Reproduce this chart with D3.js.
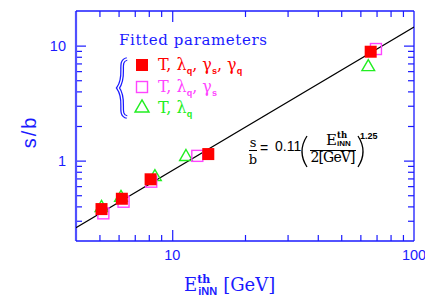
<!DOCTYPE html>
<html>
<head>
<meta charset="utf-8">
<script src="https://cdn.jsdelivr.net/npm/d3@7"></script>
<style>
  body { margin: 0; background: #fff; }
  svg { display: block; }
</style>
</head>
<body>
<div id="chart"></div>
<script>
// data (E in GeV, s/b)
var fullE  = [5.10, 6.19, 8.14, 14.1, 66.2];
var fullSB = [0.379, 0.466, 0.688, 1.14, 8.85];
var openE  = [5.19, 6.29, 8.19, 12.7, 69.6];
var openSB = [0.348, 0.439, 0.656, 1.10, 9.34];
var triE   = [5.10, 6.14, 8.48, 11.4, 64.7];
var triSB  = [0.397, 0.486, 0.735, 1.10, 6.65];
// fit line end points
var fitE  = [4, 100];
var fitSB = [0.261, 14.5];

var xMajor = [10];
var yMajor = [1, 10];

var W = 425, H = 301;
var mLeft = 76, mRight = 414, mTop = 11, mBottom = 241;
var blue = '#1a1aff';

var svg = d3.select('#chart').append('svg')
  .attr('width', W).attr('height', H);

var x = d3.scaleLog().domain([4, 100]).range([mLeft, mRight]);
var y = d3.scaleLog().domain([0.2, 20]).range([mBottom, mTop]);

var xMinor = x.ticks().filter(function(d) { return xMajor.indexOf(d) < 0 && d > 4 && d < 100; });
var yMinor = y.ticks().filter(function(d) { return yMajor.indexOf(d) < 0 && d > 0.2 && d < 20; });

//Ticks on all four sides, pointing inward
function ticks(axisFn, scale, vals, len, tr) {
  var g = svg.append('g').attr('transform', tr)
    .call(axisFn(scale).tickValues(vals).tickSize(-len).tickFormat(''));
  g.select('.domain').remove();
  g.selectAll('line').attr('stroke', blue).attr('stroke-width', 1.2);
}
ticks(d3.axisBottom, x, xMinor, 6, 'translate(0,' + mBottom + ')');
ticks(d3.axisBottom, x, xMajor, 11, 'translate(0,' + mBottom + ')');
ticks(d3.axisTop, x, xMinor, 6, 'translate(0,' + mTop + ')');
ticks(d3.axisTop, x, xMajor, 11, 'translate(0,' + mTop + ')');
ticks(d3.axisLeft, y, yMinor, 6, 'translate(' + mLeft + ',0)');
ticks(d3.axisLeft, y, yMajor, 10, 'translate(' + mLeft + ',0)');
ticks(d3.axisRight, y, yMinor, 6, 'translate(' + mRight + ',0)');
ticks(d3.axisRight, y, yMajor, 10, 'translate(' + mRight + ',0)');

//Frame
svg.append('line').attr('x1', mLeft).attr('x2', mLeft).attr('y1', mTop).attr('y2', mBottom)
  .attr('stroke', '#5050ff').attr('stroke-width', 2.2);
svg.append('line').attr('x1', mRight).attr('x2', mRight).attr('y1', mTop).attr('y2', mBottom)
  .attr('stroke', blue).attr('stroke-width', 1.3);
svg.append('line').attr('x1', mLeft).attr('x2', mRight).attr('y1', mTop).attr('y2', mTop)
  .attr('stroke', blue).attr('stroke-width', 1.5);
svg.append('line').attr('x1', mLeft).attr('x2', mRight).attr('y1', mBottom).attr('y2', mBottom)
  .attr('stroke', blue).attr('stroke-width', 1.5);

//Tick labels
var sans = 'Liberation Sans, Arial, sans-serif';
var serif = 'DejaVu Serif, serif';
[10, 100].forEach(function(v) {
  svg.append('text').attr('x', x(v)).attr('y', 260).attr('text-anchor', 'middle')
    .attr('font-family', sans).attr('font-size', 14.5).attr('fill', blue).text(v);
});
yMajor.forEach(function(v) {
  svg.append('text').attr('x', 66).attr('y', y(v) + 5).attr('text-anchor', 'end')
    .attr('font-family', sans).attr('font-size', 14.5).attr('fill', blue).text(v);
});

//Axis titles
svg.append('text').attr('transform', 'translate(36,132) rotate(-90)')
  .attr('text-anchor', 'middle').attr('font-family', sans).attr('font-size', 20)
  .attr('letter-spacing', 2).attr('fill', blue).text('s/b');

var xt = svg.append('text').attr('x', 184).attr('y', 291).attr('font-family', serif)
  .attr('font-size', 18).attr('fill', blue);
xt.append('tspan').text('E');
xt.append('tspan').attr('font-size', 11).attr('font-weight', 'bold').attr('dy', -8).text('th');
xt.append('tspan').attr('font-size', 11).attr('font-weight', 'bold').attr('font-family', sans)
  .attr('dx', -12).attr('dy', 12).text('iNN');
xt.append('tspan').attr('dy', -4).attr('dx', 6).text('[GeV]');

//Fit line
svg.append('clipPath').attr('id', 'clip').append('rect')
  .attr('x', mLeft).attr('y', mTop).attr('width', mRight - mLeft).attr('height', mBottom - mTop);
var fit = fitE.map(function(e, i) { return [e, fitSB[i]]; });
svg.append('path').datum(fit)
  .attr('clip-path', 'url(#clip)')
  .attr('d', d3.line().x(function(d) { return x(d[0]); }).y(function(d) { return y(d[1]); }))
  .attr('stroke', '#000').attr('stroke-width', 1.1).attr('fill', 'none');

//Markers
var green = '#22ee22', magenta = '#ff44ff', red = '#ff0000';
var tri = d3.symbol().type(d3.symbolTriangle).size(70);

svg.selectAll('.tri').data(triE).enter().append('path')
  .attr('transform', function(d, i) { return 'translate(' + x(d) + ',' + (y(triSB[i]) + 1) + ')'; })
  .attr('d', tri).attr('fill', 'none').attr('stroke', green).attr('stroke-width', 1.4);

svg.selectAll('.open').data(openE).enter().append('rect')
  .attr('x', function(d) { return x(d) - 5.5; })
  .attr('y', function(d, i) { return y(openSB[i]) - 5.5; })
  .attr('width', 11).attr('height', 11)
  .attr('fill', 'none').attr('stroke', magenta).attr('stroke-width', 1.4);

svg.selectAll('.full').data(fullE).enter().append('rect')
  .attr('x', function(d) { return x(d) - 6; })
  .attr('y', function(d, i) { return y(fullSB[i]) - 6; })
  .attr('width', 12).attr('height', 12).attr('fill', red);

//Legend
svg.append('text').attr('x', 119).attr('y', 45).attr('font-family', serif)
  .attr('font-size', 15).attr('fill', blue).attr('textLength', 148).text('Fitted parameters');

var brace = 'M127,59 C117,61 127,76 118,88 C127,100 117,115 127,117';
svg.append('path').attr('d', brace).attr('fill', 'none').attr('stroke', blue).attr('stroke-width', 3.8);
svg.append('path').attr('d', brace).attr('fill', 'none').attr('stroke', '#fff').attr('stroke-width', 1.3);

svg.append('rect').attr('x', 136).attr('y', 59).attr('width', 12).attr('height', 12).attr('fill', red);
svg.append('rect').attr('x', 136.5).attr('y', 81.5).attr('width', 11).attr('height', 11)
  .attr('fill', 'none').attr('stroke', magenta).attr('stroke-width', 1.4);
svg.append('path').attr('transform', 'translate(142,108)')
  .attr('d', d3.symbol().type(d3.symbolTriangle).size(85))
  .attr('fill', 'none').attr('stroke', green).attr('stroke-width', 1.4);

function legendRow(yy, color, parts) {
  var t = svg.append('text').attr('x', 158).attr('y', yy).attr('font-family', serif)
    .attr('font-size', 16).attr('fill', color);
  parts.forEach(function(p) {
    t.append('tspan').text(p[0]);
    if (p[1]) {
      t.append('tspan').attr('font-size', 9).attr('font-weight', 'bold').attr('font-family', sans)
        .attr('dy', 4).text(p[1]);
      t.append('tspan').attr('dy', -4).text(p[2] || '');
    }
  });
}
legendRow(70, red, [['T, λ', 'q', ', '], ['γ', 's', ', '], ['γ', 'q']]);
legendRow(92, magenta, [['T, λ', 'q', ', '], ['γ', 's']]);
legendRow(113, green, [['T, λ', 'q']]);

//Formula
var f = svg.append('g').attr('fill', '#000');
f.append('text').attr('x', 253).attr('y', 147).attr('text-anchor', 'middle')
  .attr('font-family', serif).attr('font-size', 13).text('s');
f.append('line').attr('x1', 249).attr('x2', 257).attr('y1', 150.5).attr('y2', 150.5)
  .attr('stroke', '#000').attr('stroke-width', 1);
f.append('text').attr('x', 253).attr('y', 163.5).attr('text-anchor', 'middle')
  .attr('font-family', serif).attr('font-size', 13).text('b');
f.append('text').attr('x', 260).attr('y', 153).attr('font-family', sans)
  .attr('font-size', 14).text('=');
f.append('text').attr('x', 275).attr('y', 151).attr('font-family', sans)
  .attr('font-size', 14).text('0.11');
f.append('path').attr('d', 'M307,136 Q297,151.5 307,167').attr('fill', 'none')
  .attr('stroke', '#000').attr('stroke-width', 1.3);
f.append('path').attr('d', 'M358,136 Q368,151.5 358,167').attr('fill', 'none')
  .attr('stroke', '#000').attr('stroke-width', 1.3);
f.append('text').attr('x', 326).attr('y', 145).attr('font-family', serif)
  .attr('font-size', 15).text('E');
f.append('text').attr('x', 337).attr('y', 138).attr('font-family', serif)
  .attr('font-size', 8.5).attr('font-weight', 'bold').text('th');
f.append('text').attr('x', 337).attr('y', 145.5).attr('font-family', sans)
  .attr('font-size', 8).attr('font-weight', 'bold').text('iNN');
f.append('line').attr('x1', 310).attr('x2', 356).attr('y1', 150.5).attr('y2', 150.5)
  .attr('stroke', '#000').attr('stroke-width', 1);
f.append('text').attr('x', 333).attr('y', 162).attr('text-anchor', 'middle')
  .attr('font-family', serif).attr('font-size', 14).attr('textLength', 45).text('2[GeV]');
f.append('text').attr('x', 360).attr('y', 139).attr('font-family', sans)
  .attr('font-size', 9).attr('font-weight', 'bold').text('1.25');
</script>
</body>
</html>
